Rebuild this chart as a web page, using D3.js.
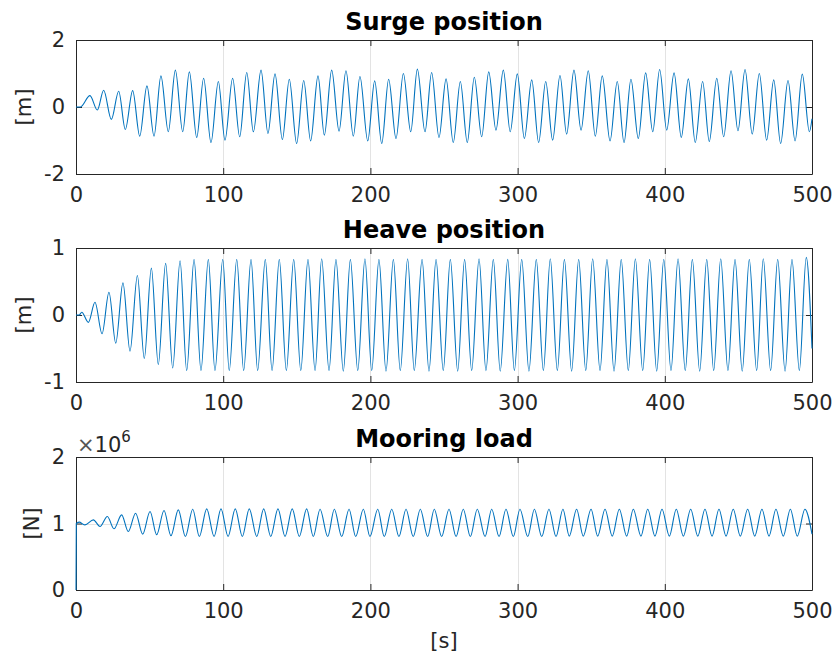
<!DOCTYPE html>
<html><head><meta charset="utf-8">
<script src="https://cdn.jsdelivr.net/npm/d3@7"></script>
<style>
body{margin:0;background:#fff;}
text{font-family:"DejaVu Sans",sans-serif;}
</style></head>
<body>
<svg id="chart" width="835" height="655"></svg>
<script>
// ---- Data (extrema, [time s, value]) ----
const xTicks = [0, 100, 200, 300, 400, 500];
const surgeTicks = [-2, 0, 2];
const heaveTicks = [-1, 0, 1];
const mooringTicks = [0, 1, 2]; // in units of 10^6 N

const surgeData = [[0,0],[3,0],[9.5,0.34],[14.5,-0.09],[18.8,0.50],[24.0,-0.37],[29.0,0.47],[33.5,-0.67],[38.5,0.49],[43.3,-0.87],[48.2,0.63],[53.0,-0.87],[57.7,0.93],[62.7,-0.74],[67.5,1.10],[72.5,-0.74],[77.0,1.05],[82.0,-0.91],[86.7,0.86],[91.7,-1.06],[96.7,0.76],[101.2,-0.99],[106.4,0.86],[111.2,-0.89],[116.0,1.03],[120.5,-0.74],[125.7,1.10],[130.4,-0.79],[135.2,0.99],[140.2,-0.97],[144.9,0.83],[149.9,-1.09],[154.7,0.79],[159.4,-1.01],[164.4,0.93],[168.7,-0.84],[173.7,1.10],[178.7,-0.72],[183.4,1.08],[188.4,-0.87],[192.9,0.91],[198.2,-1.01],[202.9,0.78],[207.7,-1.09],[212.4,0.83],[217.4,-0.94],[222.4,1.00],[227.4,-0.74],[231.9,1.13],[237.1,-0.74],[241.6,1.03],[246.6,-0.91],[251.4,0.84],[256.3,-1.06],[261.1,0.76],[265.8,-1.06],[270.6,0.89],[275.6,-0.89],[280.4,1.05],[285.3,-0.69],[290.3,1.10],[295.0,-0.74],[299.8,0.99],[304.6,-0.94],[309.6,0.81],[314.3,-1.06],[319.1,0.76],[323.8,-0.99],[328.8,0.94],[333.3,-0.81],[338.3,1.10],[343.1,-0.69],[348.0,1.08],[352.8,-0.87],[357.5,0.93],[362.8,-1.01],[367.7,0.76],[372.3,-1.06],[377.0,0.83],[382.0,-0.94],[387.0,1.02],[391.8,-0.74],[396.5,1.12],[401.3,-0.69],[406.3,1.02],[411.2,-0.91],[416.0,0.84],[420.7,-1.06],[425.7,0.76],[430.2,-1.03],[435.3,0.86],[440.0,-0.89],[445.0,1.08],[449.7,-0.71],[454.5,1.12],[459.4,-0.81],[464.2,1.00],[469.2,-0.99],[474.0,0.81],[478.7,-1.09],[483.7,0.79],[488.5,-1.01],[493.4,0.98],[498.2,-0.74],[500,-0.35]];

const heaveData = [[0,0],[2.2,0],[3.9,0.04],[8.4,-0.11],[12.9,0.19],[17.7,-0.28],[22.4,0.34],[27.0,-0.42],[31.9,0.48],[36.7,-0.54],[41.7,0.59],[46.4,-0.65],[51.2,0.70],[55.9,-0.74],[60.9,0.77],[65.7,-0.79],[70.7,0.81],[75.2,-0.83],[80.2,0.83],[84.9,-0.83],[89.9,0.83],[94.4,-0.83],[99.7,0.83],[104.1,-0.83],[109.2,0.83],[113.9,-0.83],[118.9,0.83],[123.4,-0.83],[128.6,0.83],[133.2,-0.83],[138.1,0.83],[142.9,-0.83],[147.9,0.83],[152.7,-0.83],[157.6,0.83],[162.4,-0.83],[166.9,0.84],[171.9,-0.83],[176.6,0.83],[181.6,-0.84],[186.4,0.83],[191.4,-0.83],[196.3,0.84],[200.9,-0.83],[205.8,0.83],[210.6,-0.84],[215.6,0.83],[220.3,-0.83],[225.3,0.84],[229.8,-0.83],[235.1,0.83],[239.8,-0.84],[244.6,0.83],[249.5,-0.83],[254.3,0.83],[259.3,-0.84],[264.0,0.83],[268.8,-0.83],[273.8,0.84],[278.5,-0.83],[283.5,0.83],[288.2,-0.84],[293.3,0.83],[297.8,-0.83],[302.8,0.83],[307.7,-0.84],[312.7,0.83],[317.5,-0.83],[322.2,0.84],[327.0,-0.83],[331.8,0.83],[336.7,-0.84],[341.5,0.83],[346.3,-0.83],[351.0,0.84],[356.0,-0.83],[360.7,0.83],[365.5,-0.84],[370.4,0.83],[375.2,-0.83],[380.0,0.84],[385.0,-0.83],[389.7,0.83],[394.5,-0.84],[399.3,0.83],[404.2,-0.83],[409.0,0.84],[413.9,-0.83],[418.7,0.83],[423.7,-0.84],[428.5,0.83],[433.2,-0.83],[438.0,0.84],[442.9,-0.83],[447.7,0.83],[452.6,-0.84],[457.4,0.83],[462.4,-0.83],[466.9,0.84],[471.9,-0.83],[476.7,0.83],[481.7,-0.84],[486.4,0.83],[491.4,-0.83],[496.1,0.86],[500,-0.50]];

const mooringData = [[0,0],[0.2,1.0],[2.5,1.02],[4.0,1.0],[6.1,0.98],[11.8,1.055],[16.3,0.955],[21.3,1.105],[25.8,0.92],[31.0,1.13],[35.5,0.88],[40.5,1.155],[45.3,0.84],[50.3,1.18],[54.8,0.83],[59.8,1.195],[64.5,0.815],[69.5,1.205],[74.3,0.805],[79.3,1.215],[83.8,0.805],[88.8,1.22],[93.8,0.805],[98.5,1.22],[103.3,0.805],[108.2,1.22],[113.0,0.805],[117.7,1.22],[122.8,0.805],[127.5,1.22],[132.3,0.805],[137.2,1.22],[142.0,0.805],[146.9,1.22],[151.7,0.805],[156.7,1.22],[161.2,0.805],[165.8,1.215],[171.0,0.805],[175.5,1.215],[180.5,0.805],[185.5,1.215],[190.0,0.805],[195.2,1.215],[199.7,0.805],[205.0,1.215],[209.4,0.805],[214.5,1.215],[219.4,0.805],[224.2,1.215],[229.1,0.805],[233.9,1.215],[238.9,0.805],[243.4,1.215],[248.4,0.805],[253.4,1.215],[258.2,0.805],[263.1,1.215],[267.9,0.805],[272.6,1.215],[277.9,0.805],[282.4,1.215],[287.4,0.805],[292.1,1.215],[297.1,0.805],[301.6,1.215],[306.9,0.805],[311.4,1.215],[316.4,0.805],[321.3,1.215],[326.1,0.805],[330.8,1.215],[335.1,0.81],[340.1,1.215],[344.6,0.81],[349.9,1.215],[354.4,0.81],[359.4,1.215],[364.3,0.81],[369.1,1.215],[374.1,0.81],[378.6,1.215],[383.8,0.81],[388.4,1.215],[393.3,0.81],[398.1,1.215],[403.1,0.81],[407.8,1.215],[412.6,0.81],[417.6,1.215],[422.4,0.81],[427.3,1.215],[432.1,0.81],[436.8,1.215],[441.6,0.81],[446.5,1.215],[451.3,0.81],[456.3,1.215],[461.1,0.81],[466.0,1.215],[470.8,0.81],[475.5,1.215],[480.5,0.81],[485.3,1.215],[490.0,0.81],[495.2,1.215],[500,0.84]];

const titles = ["Surge position", "Heave position", "Mooring load"];
const yLabels = ["[m]", "[m]", "[N]"];

// ---- Layout ----
const svg = d3.select("#chart");
svg.append("rect").attr("width", 835).attr("height", 655).attr("fill", "#fff");
const left = 76, right = 812;
const x = d3.scaleLinear().domain([0, 500]).range([left, right]);

const panels = [
  {data: surgeData, ticks: surgeTicks, domain: [-2, 2], top: 40, bottom: 174, ylabX: 23},
  {data: heaveData, ticks: heaveTicks, domain: [-1, 1], top: 248, bottom: 382, ylabX: 23},
  {data: mooringData, ticks: mooringTicks, domain: [0, 2], top: 457, bottom: 590, ylabX: 31}
];

const axisColor = "#262626";
const gridColor = "#e3e3e3";
const tickFont = 21;

panels.forEach((p, i) => {
  const y = d3.scaleLinear().domain(p.domain).range([p.bottom, p.top]);
  const g = svg.append("g");

  // grid
  g.selectAll(".vg").data(xTicks.slice(1, -1)).join("line")
    .attr("x1", d => Math.round(x(d)) + 0.5).attr("x2", d => Math.round(x(d)) + 0.5)
    .attr("y1", p.top).attr("y2", p.bottom)
    .attr("stroke", gridColor).attr("stroke-width", 1);
  g.selectAll(".hg").data(p.ticks.slice(1, -1)).join("line")
    .attr("y1", d => Math.round(y(d)) + 0.5).attr("y2", d => Math.round(y(d)) + 0.5)
    .attr("x1", left).attr("x2", right)
    .attr("stroke", gridColor).attr("stroke-width", 1);

  // axes
  const styleAxis = sel => {
    sel.select(".domain").attr("stroke", axisColor);
    sel.selectAll(".tick line").attr("stroke", axisColor);
    sel.selectAll(".tick text").attr("fill", axisColor)
      .style("font-family", "DejaVu Sans, sans-serif").style("font-size", tickFont + "px");
  };
  const fmt = d => String(d);
  g.append("g").attr("transform", `translate(0,${p.bottom})`)
    .call(d3.axisBottom(x).tickValues(xTicks).tickSizeInner(-6).tickSizeOuter(0).tickPadding(13).tickFormat(fmt))
    .call(styleAxis);
  g.append("g").attr("transform", `translate(0,${p.top})`)
    .call(d3.axisTop(x).tickValues(xTicks).tickSizeInner(-6).tickSizeOuter(0).tickFormat(""))
    .call(styleAxis);
  g.append("g").attr("transform", `translate(${left},0)`)
    .call(d3.axisLeft(y).tickValues(p.ticks).tickSizeInner(-6).tickSizeOuter(0).tickPadding(11).tickFormat(fmt))
    .call(styleAxis);
  g.append("g").attr("transform", `translate(${right},0)`)
    .call(d3.axisRight(y).tickValues(p.ticks).tickSizeInner(-6).tickSizeOuter(0).tickFormat(""))
    .call(styleAxis);

  // data line (drawn on top of axes, as in the reference)
  const cid = "clip" + i;
  svg.append("clipPath").attr("id", cid).append("rect")
    .attr("x", left - 1).attr("y", p.top - 1).attr("width", right - left + 2).attr("height", p.bottom - p.top + 2);
  const line = d3.line().x(d => x(d[0])).y(d => y(d[1])).curve(d3.curveMonotoneX);
  g.append("path").datum(p.data)
    .attr("clip-path", `url(#${cid})`)
    .attr("d", line).attr("fill", "none")
    .attr("stroke", "#0072BD").attr("stroke-width", 1.1);

  // title
  svg.append("text").attr("x", (left + right) / 2).attr("y", p.top - 10)
    .attr("text-anchor", "middle").attr("font-weight", "bold").attr("font-size", 24)
    .attr("fill", "#000").text(titles[i]);

  // y label
  svg.append("text")
    .attr("transform", `translate(${p.ylabX + 8},${(p.top + p.bottom) / 2}) rotate(-90)`)
    .attr("text-anchor", "middle").attr("font-size", tickFont).attr("fill", axisColor)
    .text(yLabels[i]);
});

// exponent label for mooring load
const ex = svg.append("text").attr("x", left + 1).attr("y", 452).attr("font-size", tickFont).attr("fill", axisColor);
ex.append("tspan").attr("fill", "#555").text("×");
ex.append("tspan").text("10");
ex.append("tspan").attr("dy", -10).attr("font-size", 15).text("6");

// x label
svg.append("text").attr("x", (left + right) / 2).attr("y", 648)
  .attr("text-anchor", "middle").attr("font-size", tickFont).attr("fill", axisColor).text("[s]");
</script>
</body></html>
